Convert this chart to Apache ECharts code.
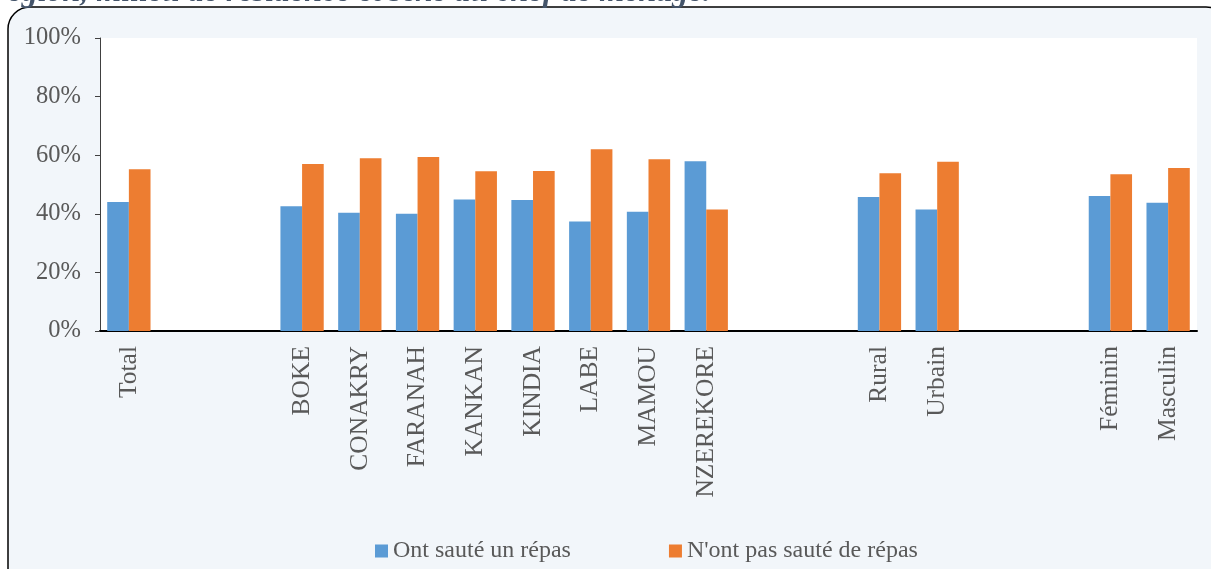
<!DOCTYPE html>
<html>
<head>
<meta charset="utf-8">
<script src="https://cdn.jsdelivr.net/npm/echarts@6/dist/echarts.min.js"></script>
<style>
  html, body { margin: 0; padding: 0; background: #fff; }
  #chart { width: 1211px; height: 569px; }
</style>
</head>
<body>
<div id="chart"></div>
<script>
  // catégories (les chaînes vides servent d'espaces entre les groupes)
  var categories = ['Total', ' ', '  ', 'BOKE', 'CONAKRY', 'FARANAH', 'KANKAN', 'KINDIA', 'LABE', 'MAMOU', 'NZEREKORE',
    '   ', '    ', 'Rural', 'Urbain', '     ', '      ', 'Féminin', 'Masculin'];
  // valeurs en %
  var ontSaute = [44.0, null, null, 42.6, 40.4, 40.0, 44.9, 44.7, 37.4, 40.7, 57.9,
    null, null, 45.7, 41.5, null, null, 46.1, 43.8];
  var ontPasSaute = [55.2, null, null, 57.0, 59.0, 59.4, 54.5, 54.6, 62.0, 58.6, 41.5,
    null, null, 53.8, 57.8, null, null, 53.5, 55.6];
  var yTicks = [0, 20, 40, 60, 80, 100];

  var font = '"Liberation Serif", "Times New Roman", serif';
  var myChart = echarts.init(document.getElementById('chart'));

  var options = {
    animation: false,
    backgroundColor: '#fff',
    color: ['#5b9bd5', '#ed7d31'],
    graphic: [
      {
        type: 'rect',
        shape: { x: 8, y: 7, width: 1220, height: 600, r: 22 },
        style: { fill: '#f2f6fa', stroke: '#000', lineWidth: 1.5 },
        z: -10
      },
      {
        type: 'text',
        x: -5,
        y: -7,
        style: {
          text: 'région, milieu de résidence et sexe du chef de ménage.',
          font: 'italic bold 32px ' + font,
          fill: '#44546a',
          verticalAlign: 'middle'
        }
      }
    ],
    grid: {
      left: 100,
      right: 14,
      top: 38,
      bottom: 238,
      show: true,
      backgroundColor: '#fff',
      borderWidth: 0
    },
    legend: {
      left: 370,
      top: 534,
      itemGap: 98,
      itemWidth: 13,
      itemHeight: 13,
      icon: 'rect',
      textStyle: { fontFamily: font, fontSize: 24, color: '#595959' },
      data: ['Ont sauté un répas', "N'ont pas sauté de répas"]
    },
    xAxis: {
      type: 'category',
      data: categories,
      axisLine: { lineStyle: { color: '#000', width: 2 } },
      axisTick: { show: false },
      axisLabel: {
        interval: 0,
        rotate: 90,
        margin: 15,
        fontFamily: font,
        fontSize: 25.5,
        color: '#595959'
      }
    },
    yAxis: {
      type: 'value',
      min: 0,
      max: 100,
      interval: 20,
      axisLine: { show: true, lineStyle: { color: '#404040', width: 1 } },
      axisTick: { show: true, length: 5, lineStyle: { color: '#404040' } },
      splitLine: { show: false },
      axisLabel: {
        margin: 19,
        fontFamily: font,
        fontSize: 24.5,
        color: '#595959',
        formatter: function (v) { return yTicks.indexOf(v) >= 0 ? v + '%' : ''; }
      }
    },
    series: [
      {
        name: 'Ont sauté un répas',
        type: 'bar',
        barGap: '0%',
        barCategoryGap: '25%',
        data: ontSaute
      },
      {
        name: "N'ont pas sauté de répas",
        type: 'bar',
        data: ontPasSaute
      }
    ]
  };
  myChart.setOption(options);
</script>
</body>
</html>
